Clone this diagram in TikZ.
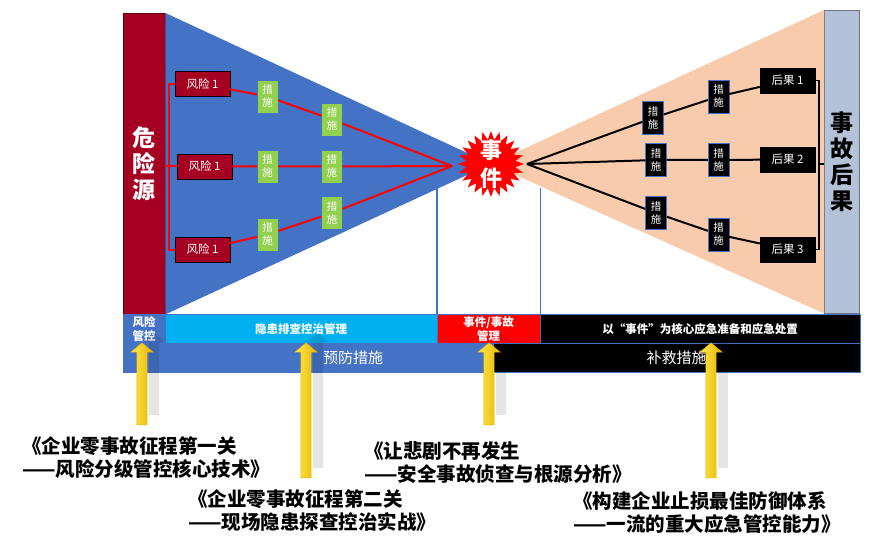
\documentclass[tikz,border=0pt]{standalone}
\usepackage{fontspec}
\setmainfont{Noto Sans CJK SC}
\usetikzlibrary{shapes.geometric, shapes.arrows, positioning, shadows}
\definecolor{hazred}{HTML}{A50021}
\definecolor{boxblue}{HTML}{4472C4}
\definecolor{leafgreen}{HTML}{92D050}
\definecolor{peach}{HTML}{F8CBAD}
\definecolor{skyblue}{HTML}{00B0F0}
\definecolor{steel}{HTML}{B4C2D9}
\definecolor{goldlight}{HTML}{FFE94D}
\definecolor{golddark}{HTML}{E6B400}

\begin{document}
\begin{tikzpicture}[x=1pt, y=-1pt,
    bar/.style={rectangle, anchor=north west, minimum width=42, minimum height=301, inner sep=0, align=center, font=\bfseries\fontsize{23}{26}\selectfont},
    risk/.style={rectangle, draw=black, fill=hazred, text=white, minimum width=55, minimum height=25, inner sep=0, font=\fontsize{11.5}{13}\selectfont},
    result/.style={risk, fill=black},
    measure/.style={rectangle, draw=boxblue, fill=leafgreen, text=white, minimum width=21, minimum height=33, inner sep=0, align=center, font=\fontsize{10.5}{13}\selectfont},
    rmeasure/.style={measure, fill=black},
    cell/.style={rectangle, draw=boxblue, anchor=north west, inner sep=0, text=white, align=center, minimum height=29, font=\bfseries\fontsize{11.5}{14}\selectfont},
    redline/.style={draw=red, line width=2},
    blackline/.style={draw=black, line width=2},
    divider/.style={draw=boxblue, line width=1.5},
    pointer/.style={single arrow, rotate=90, inner sep=5, single arrow head extend=6, single arrow tip angle=100, left color=goldlight, right color=golddark, draw=golddark, line width=0.4, drop shadow={shadow xshift=12pt, shadow yshift=10pt, fill=black, opacity=0.1}},
    note/.style={anchor=west, align=left, inner sep=0, font=\bfseries\fontsize{19.5}{23}\selectfont}
]
\useasboundingbox (0,0) rectangle (869,553);

% the two ends
\node[bar, fill=hazred, draw=hazred!60!black, text=white] (src) at (123,13) {危\\险\\源};
\node[bar, minimum width=35, minimum height=303, fill=steel, draw=steel!60!black] (dst) at (824,10) {事\\故\\后\\果};

\coordinate (mid) at (491,164);
\fill[boxblue] (src.north east) -- (mid) -- (src.south east) -- cycle;
\fill[peach] (dst.north west) -- (mid) -- (dst.south west) -- cycle;

% prevention side
\node[risk] (r1) at (202.5,84) {风险 1};
\node[risk] (r2) at (204.5,166.5) {风险 1};
\node[risk] (r3) at (202.5,249.5) {风险 1};

\node[measure] (a1) at (267.5,96.5) {措\\施};
\node[measure] (a2) at (267.5,166.5) {措\\施};
\node[measure] (a3) at (267.5,234.5) {措\\施};
\node[measure] (b1) at (332,119.5) {措\\施};
\node[measure, right=43 of a2] (b2) {措\\施};
\node[measure] (b3) at (332,213) {措\\施};

\coordinate (lhub) at (452,166);
\coordinate (lbk) at (169,166);
\draw[redline] (r1) -- (a1) -- (b1) -- (lhub);
\draw[redline] (r2) -- (a2) -- (b2) -- (lhub);
\draw[redline] (r3) -- (a3) -- (b3) -- (lhub);
\draw[redline] (r1.west) -| (lbk) |- (r3.west);
\draw[redline] (src.east |- r2) -- (r2.west);

% response side
\node[rmeasure] (s1) at (653,118) {措\\施};
\node[rmeasure] (s2) at (656,160) {措\\施};
\node[rmeasure] (s3) at (656,213) {措\\施};
\node[rmeasure] (t1) at (718.5,96.5) {措\\施};
\node[rmeasure] (t2) at (718.5,160) {措\\施};
\node[rmeasure] (t3) at (718.5,234.5) {措\\施};
\node[result] (c1) at (787.5,80.5) {后果 1};
\node[result] (c2) at (787.5,159.5) {后果 2};
\node[result] (c3) at (787.5,249.5) {后果 3};

\coordinate (rhub) at (527,164);
\coordinate (rbk) at (819,164);
\draw[blackline] (rhub) -- (s1) -- (t1) -- (c1);
\draw[blackline] (rhub) -- (s2) -- (t2) -- (c2);
\draw[blackline] (rhub) -- (s3) -- (t3) -- (c3);
\draw[blackline, line width=1.5] (c1.east) -| (rbk) |- (c3.east);
\draw[blackline, line width=1.5] (rbk) -- (dst.west |- rbk);

\node[star, star points=24, star point ratio=1.35, minimum size=66, inner sep=0, fill=red,
    label={[text=white, align=center, font=\bfseries\fontsize{22}{28}\selectfont]center:{事\\件}}] (ev) at (mid) {};

% bands
\node[cell, minimum width=42, fill=boxblue] (ctl) at (123,314) {风险\\管控};
\node[cell, minimum width=272, fill=skyblue] (hid) at (165,314) {隐患排查控治管理};
\node[cell, minimum width=103, fill=red] (inc) at (437,314) {事件/事故\\管理};
\node[cell, minimum width=320, fill=black] (emg) at (540,314) {以“事件”为核心应急准备和应急处置};
\node[cell, minimum width=460, fill=boxblue, font=\fontsize{15}{18}\selectfont] (prev) at (123,343) {预防措施};
\node[cell, minimum width=367, fill=black, font=\fontsize{15}{18}\selectfont] (rem) at (493,343) {补救措施};

\draw[divider] (inc.north west) -- ++(0,-126);
\draw[divider] (inc.north east) -- ++(0,-126);

% pointers to the books
\node[pointer, minimum height=82] (p1) at (142,386) {};
\node[pointer, minimum height=135] (p2) at (306,412.5) {};
\node[pointer, minimum height=82] (p3) at (489,386) {};
\node[pointer, minimum height=135] (p4) at (711,412.5) {};

\node[note] (n1) at (22,458) {《企业零事故征程第一关\\——风险分级管控核心技术》};
\node[note] (n2) at (188,511) {《企业零事故征程第二关\\——现场隐患探查控治实战》};
\node[note] (n3) at (364,463) {《让悲剧不再发生\\——安全事故侦查与根源分析》};
\node[note] (n4) at (573,513) {《构建企业止损最佳防御体系\\——一流的重大应急管控能力》};

\end{tikzpicture}
\end{document}
